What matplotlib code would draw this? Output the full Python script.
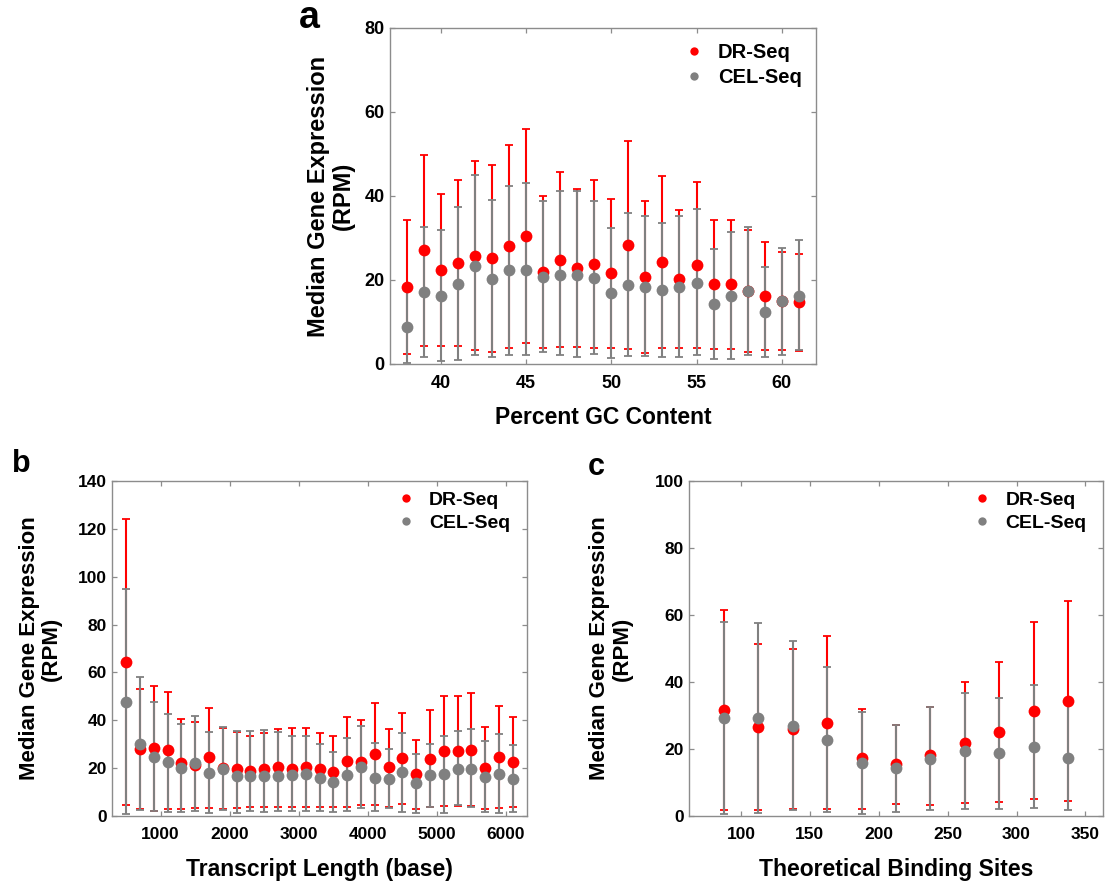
import matplotlib
matplotlib.use("Agg")
import matplotlib.pyplot as plt
from matplotlib.lines import Line2D

plt.rcParams["font.family"] = ["Liberation Sans", "DejaVu Sans"]
plt.rcParams["font.weight"] = "bold"
plt.rcParams["axes.labelweight"] = "bold"

RED = "#ff0000"
GREY = "#808080"
SPINE = "#8c8c8c"

# ---- panel a: GC content ----
gc_content = list(range(38, 62))
a_dr_med = [18.4, 27.1, 22.3, 24.0, 25.8, 25.2, 28.0, 30.5, 21.8, 24.8, 22.8, 23.7,
            21.6, 28.3, 20.7, 24.4, 20.2, 23.6, 19.0, 19.0, 17.3, 16.3, 15.0, 14.7]
a_dr_hi = [34.4, 49.8, 40.5, 43.9, 48.3, 47.4, 52.1, 55.9, 40.0, 45.6, 41.6, 43.7,
           39.4, 53.1, 38.9, 44.8, 36.7, 43.3, 34.4, 34.3, 31.9, 29.0, 26.7, 26.2]
a_dr_lo = [2.4, 4.4, 4.2, 4.4, 3.4, 2.9, 3.9, 5.0, 3.7, 4.1, 4.0, 3.7,
           3.7, 3.5, 2.6, 3.8, 3.9, 3.8, 3.6, 3.5, 2.9, 3.4, 3.3, 3.2]
a_cel_med = [8.7, 17.1, 16.3, 19.1, 23.3, 20.2, 22.3, 22.5, 20.6, 21.3, 21.3, 20.5,
             17.0, 18.8, 18.4, 17.6, 18.3, 19.4, 14.2, 16.3, 17.5, 12.3, 15.1, 16.3]
a_cel_hi = [17.6, 32.7, 31.8, 37.5, 44.9, 39.0, 42.5, 43.0, 38.7, 41.2, 41.1, 38.7,
            32.5, 35.9, 35.2, 33.5, 35.2, 36.9, 27.3, 31.4, 32.7, 23.2, 27.7, 29.5]
a_cel_lo = [0.2, 1.6, 0.8, 1.0, 2.1, 1.6, 2.2, 2.2, 2.8, 2.1, 1.7, 2.3,
            1.5, 1.9, 2.0, 1.7, 1.6, 2.1, 1.2, 1.2, 2.2, 1.6, 2.2, 3.3]

# ---- panel b: transcript length ----
transcript_length = list(range(500, 6101, 200))
b_dr_med = [64.5, 28.1, 28.4, 27.4, 22.3, 21.3, 24.5, 20.0, 19.5, 18.7, 19.6, 20.3, 19.5, 20.5,
            19.5, 18.5, 23.0, 22.4, 25.9, 20.3, 24.1, 17.4, 24.0, 27.3, 27.0, 27.7, 20.1, 24.8, 22.7]
b_dr_hi = [124.2, 52.9, 54.2, 51.9, 40.7, 39.1, 45.0, 36.8, 35.2, 33.4, 34.8, 36.4, 36.6, 36.8,
           34.8, 33.3, 41.5, 40.1, 47.2, 36.5, 43.2, 31.6, 44.2, 50.3, 50.0, 51.4, 37.2, 46.1, 41.5]
b_dr_lo = [4.6, 2.9, 2.2, 2.8, 2.9, 3.2, 3.2, 3.1, 3.2, 3.6, 3.9, 3.9, 3.6, 3.9,
           3.9, 3.6, 3.9, 4.6, 4.6, 3.9, 4.9, 3.1, 3.6, 4.3, 4.2, 4.2, 2.8, 3.3, 3.9]
b_cel_med = [47.8, 30.1, 24.8, 22.4, 19.9, 22.0, 17.8, 19.8, 16.6, 16.9, 16.9, 16.7, 17.3, 17.5,
             16.0, 14.2, 17.1, 20.3, 16.0, 15.3, 18.2, 13.6, 17.1, 17.4, 19.8, 19.5, 16.4, 17.7, 15.5]
b_cel_hi = [94.7, 57.9, 47.6, 42.6, 38.3, 41.8, 35.0, 37.3, 35.7, 35.4, 35.9, 35.0, 33.3, 33.3,
            30.2, 26.9, 32.5, 37.6, 30.5, 28.0, 34.8, 26.0, 30.2, 33.4, 35.7, 36.2, 31.5, 34.3, 29.5]
b_cel_lo = [0.8, 2.4, 2.1, 1.8, 1.8, 2.2, 1.1, 2.5, 1.4, 2.2, 1.8, 2.2, 2.2, 2.2,
            2.2, 1.8, 2.2, 3.5, 2.1, 3.2, 1.8, 1.4, 3.9, 1.4, 4.5, 3.6, 1.7, 1.1, 1.5]

# ---- panel c: theoretical binding sites ----
binding_sites = [87.5, 112.5, 137.5, 162.5, 187.5, 212.5, 237.5, 262.5, 287.5, 312.5, 337.5]
c_dr_med = [31.7, 26.5, 26.1, 27.9, 17.2, 15.6, 18.2, 21.8, 25.1, 31.4, 34.2]
c_dr_hi = [61.4, 51.3, 50.0, 53.6, 32.0, 27.2, 32.6, 40.1, 46.1, 57.8, 64.1]
c_dr_lo = [1.8, 1.8, 2.2, 2.0, 2.2, 3.6, 3.3, 3.8, 4.3, 5.0, 4.4]
c_cel_med = [29.2, 29.3, 27.0, 22.8, 15.8, 14.4, 17.0, 19.4, 18.7, 20.7, 17.3]
c_cel_hi = [57.8, 57.6, 52.1, 44.4, 31.0, 27.2, 32.5, 36.7, 35.2, 39.0, 33.4]
c_cel_lo = [0.6, 1.0, 1.8, 1.3, 0.6, 1.3, 1.8, 2.2, 2.2, 2.5, 1.8]

method_names = ["DR-Seq", "CEL-Seq"]
y_label = "Median Gene Expression\n(RPM)"

W, H = 1105, 882
fig = plt.figure(figsize=(W / 100, H / 100), dpi=100)


def px_rect(left, top, right, bottom):
    return [left / W, 1 - bottom / H, (right - left) / W, (bottom - top) / H]


def draw_panel(rect, x, dr, cel, xlim, xticks, ylim, yticks, xlabel,
               ylabel_x, xlabel_y, legend_xy, tick_fs, ylab_fs, leg_fs):
    ax = fig.add_axes(rect)
    for (med, lo, hi), color in ((dr, RED), (cel, GREY)):
        err = [[m - l for m, l in zip(med, lo)], [h - m for m, h in zip(med, hi)]]
        line, caps, bars = ax.errorbar(x, med, yerr=err, fmt="o", color=color,
                                       ecolor=color, ms=8.5, elinewidth=1.5,
                                       capsize=3, capthick=1.3)
        line.set_markeredgewidth(0)
    ax.set_xlim(*xlim)
    ax.set_ylim(*ylim)
    ax.set_xticks(xticks)
    ax.set_yticks(yticks)
    ax.tick_params(axis="both", which="both", direction="in", length=3.5,
                   width=0.9, color=SPINE, labelsize=tick_fs, top=True, right=True)
    ax.tick_params(axis="x", pad=8)
    ax.tick_params(axis="y", pad=4)
    for lab in ax.get_xticklabels() + ax.get_yticklabels():
        lab.set_fontweight("bold")
    for sp in ax.spines.values():
        sp.set_color(SPINE)
        sp.set_linewidth(1.0)
    ax.set_xlabel(xlabel, fontsize=16.5, fontweight="bold")
    ax.set_ylabel(y_label, fontsize=ylab_fs, fontweight="bold", linespacing=1.1)
    ax.yaxis.set_label_coords(ylabel_x, 0.5)
    ax.xaxis.set_label_coords(0.5, xlabel_y)
    handles = [Line2D([], [], ls="none", marker="o", ms=6, mew=0, color=c)
               for c in (RED, GREY)]
    ax.legend(handles, method_names, loc="upper left", bbox_to_anchor=legend_xy,
              frameon=False, handlelength=1.0, handletextpad=0.7,
              borderpad=0, borderaxespad=0, labelspacing=0.3,
              prop={"weight": "bold", "size": leg_fs})
    return ax


draw_panel(px_rect(390, 28, 815.7, 364), gc_content,
           (a_dr_med, a_dr_lo, a_dr_hi), (a_cel_med, a_cel_lo, a_cel_hi),
           (37, 62), [40, 45, 50, 55, 60], (0, 80), [0, 20, 40, 60, 80],
           "Percent GC Content", -0.082, -0.125, (0.69, 0.955), 13, 17, 14.5)

draw_panel(px_rect(112.3, 481, 526.7, 816), transcript_length,
           (b_dr_med, b_dr_lo, b_dr_hi), (b_cel_med, b_cel_lo, b_cel_hi),
           (300, 6300), [1000, 2000, 3000, 4000, 5000, 6000], (0, 140),
           [0, 20, 40, 60, 80, 100, 120, 140],
           "Transcript Length (base)", -0.121, -0.125, (0.685, 0.97), 12.5, 16, 14)

draw_panel(px_rect(689.3, 481, 1102.7, 816), binding_sites,
           (c_dr_med, c_dr_lo, c_dr_hi), (c_cel_med, c_cel_lo, c_cel_hi),
           (62.5, 362.5), [100, 150, 200, 250, 300, 350], (0, 100),
           [0, 20, 40, 60, 80, 100],
           "Theoretical Binding Sites", -0.136, -0.125, (0.685, 0.97), 12.5, 16, 14)

# panel letters
fig.text(299 / W, 1 - 28 / H, "a", fontsize=27, fontweight="bold", va="baseline")
fig.text(12 / W, 1 - 472 / H, "b", fontsize=22, fontweight="bold", va="baseline")
fig.text(588 / W, 1 - 475 / H, "c", fontsize=22, fontweight="bold", va="baseline")

fig.savefig("out.png", dpi=100)
